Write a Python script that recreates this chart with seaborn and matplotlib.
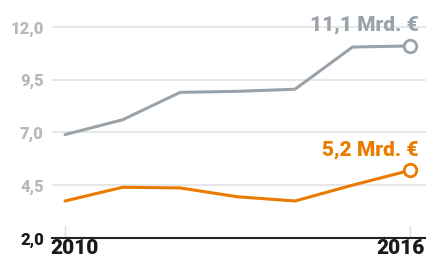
import matplotlib

matplotlib.use("Agg")

import matplotlib.pyplot as plt
import matplotlib.transforms as mtransforms
import pandas as pd
import seaborn as sns

years = [2010, 2011, 2012, 2013, 2014, 2015, 2016]
grey_values = [6.9, 7.6, 8.9, 8.95, 9.05, 11.05, 11.1]
orange_values = [3.75, 4.4, 4.37, 3.95, 3.75, 4.5, 5.2]
series_names = ["gesamt", "teil"]
end_labels = ["11,1 Mrd. €", "5,2 Mrd. €"]
y_ticks = [2.0, 4.5, 7.0, 9.5, 12.0]
x_ticks = [2010, 2016]

GREY = "#9ba3aa"
ORANGE = "#e97b00"
TICK_GREY = "#b9b9bc"
HEAVY = 900

df = pd.DataFrame({
    "year": years * 2,
    "value": grey_values + orange_values,
    "series": [series_names[0]] * len(years) + [series_names[1]] * len(years),
})

sns.set_style("white")
plt.rcParams["font.family"] = ["Roboto", "DejaVu Sans"]

fig = plt.figure(figsize=(4.27, 2.62), dpi=100)
ax = fig.add_axes([0.122, 0.092, 0.878, 0.908])

sns.lineplot(data=df, x="year", y="value", hue="series",
             palette={series_names[0]: GREY, series_names[1]: ORANGE},
             linewidth=2.2, legend=False, ax=ax)

for color, label, vals in zip([GREY, ORANGE], end_labels, [grey_values, orange_values]):
    ax.plot(years[-1], vals[-1], "o", ms=9, mfc="white", mec=color, mew=2, zorder=5)
    ax.annotate(label, (years[-1], vals[-1]), xytext=(6, 11), textcoords="offset points",
                ha="right", va="baseline", color=color, fontsize=15, fontweight=HEAVY)

ax.set_xlim(2009.774, 2016.296)
ax.set_ylim(2.0, 13.28)
ax.set_yticks(y_ticks)
ax.set_yticklabels([f"{t:.1f}".replace(".", ",") for t in y_ticks])
ax.set_xticks(x_ticks)
ax.set_xticklabels([str(x) for x in x_ticks])
ax.tick_params(axis="y", length=0, pad=6, labelsize=12, labelcolor=TICK_GREY)
ax.tick_params(axis="x", length=0, pad=1, labelsize=15, labelcolor="#1a1a1a")
for lab in ax.get_yticklabels() + ax.get_xticklabels():
    lab.set_fontweight(HEAVY)
ax.get_yticklabels()[0].set_color("#1a1a1a")

# shift the year labels like the original: first one leans right, last one leans left
xlabels = ax.get_xticklabels()
xlabels[0].set_ha("left")
xlabels[0].set_transform(xlabels[0].get_transform()
                         + mtransforms.ScaledTranslation(-15 / 100, 0, fig.dpi_scale_trans))
xlabels[1].set_ha("right")
xlabels[1].set_transform(xlabels[1].get_transform()
                         + mtransforms.ScaledTranslation(15 / 100, 0, fig.dpi_scale_trans))

for t in y_ticks[1:]:
    ax.axhline(t, color="#e3e3e3", lw=1.2, zorder=0)
for x in x_ticks:
    ax.plot([x, x], [2.0, 2.55], color="#dddddd", lw=1, zorder=0)

for side in ["top", "right", "left"]:
    ax.spines[side].set_visible(False)
ax.spines["bottom"].set_color("#222222")
ax.spines["bottom"].set_linewidth(1.5)
ax.set_xlabel("")
ax.set_ylabel("")

fig.savefig("out.png", dpi=100)
